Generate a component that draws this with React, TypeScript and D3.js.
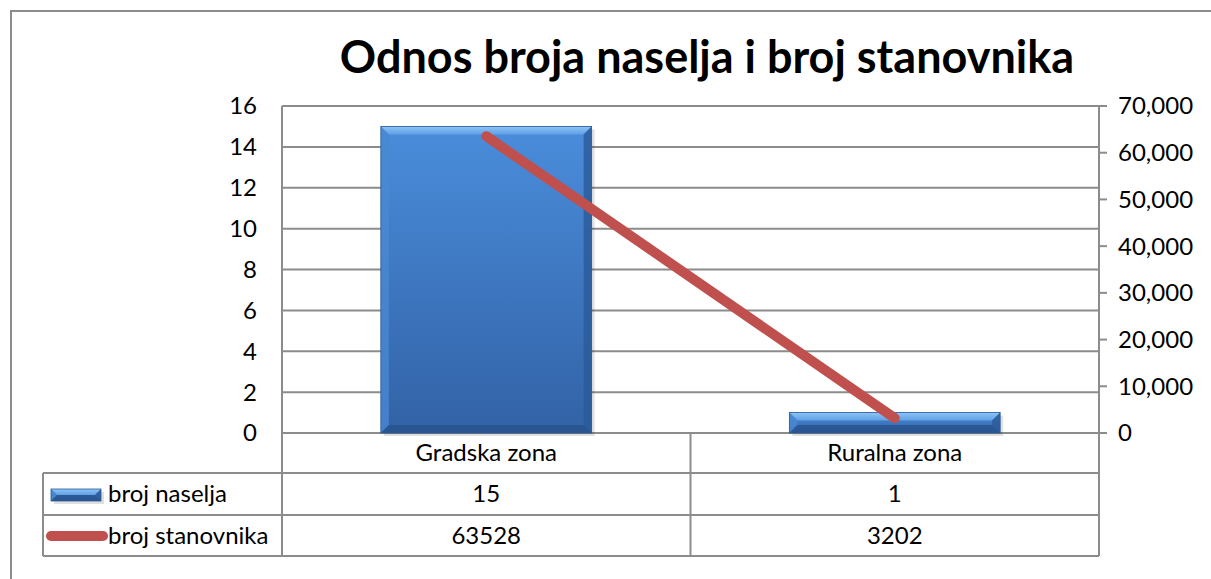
import React from "react";
import * as d3 from "d3";

const categories = ["Gradska zona", "Ruralna zona"];
const brojNaselja = [15, 1];
const brojStanovnika = [63528, 3202];
const leftTicks = [0, 2, 4, 6, 8, 10, 12, 14, 16];
const rightTicks = [0, 10000, 20000, 30000, 40000, 50000, 60000, 70000];
const seriesNames = ["broj naselja", "broj stanovnika"];
const title = "Odnos broja naselja i broj stanovnika";

const W = 1211, H = 579;
const L = 282, R = 1099, T = 106, B = 433;
const rowY = [433, 473, 515, 556];
const tableLeft = 43;
const FONT = "Lato, 'Open Sans', sans-serif";
const GRID = "#8c8c8c";
const FS = 24;

export default function App() {
  const x = d3.scaleBand<string>().domain(categories).range([L, R]).paddingInner(0).paddingOuter(0);
  const yL = d3.scaleLinear().domain([0, 16]).range([B, T]);
  const yR = d3.scaleLinear().domain([0, 70000]).range([B, T]);
  const bw = x.bandwidth() * 0.516;
  const fmt = d3.format(",");
  const line = d3.line<number>().x((_, i) => x(categories[i])! + x.bandwidth() / 2).y(d => yR(d));
  const bev = 8;

  const barShape = (x0: number, y0: number, x1: number, y1: number, key: string) => {
    const b = Math.min(bev, (y1 - y0) / 2, (x1 - x0) / 2);
    return (
      <g key={key}>
        <rect x={x0 + 3} y={y0 + 3} width={x1 - x0} height={y1 - y0} fill="#000" opacity={0.12} />
        <rect x={x0} y={y0} width={x1 - x0} height={y1 - y0} fill="url(#barGrad)" />
        <polygon points={`${x0},${y0} ${x1},${y0} ${x1 - b},${y0 + b} ${x0 + b},${y0 + b}`} fill="url(#topBev)" />
        <polygon points={`${x0},${y0} ${x0 + b},${y0 + b} ${x0 + b},${y1 - b} ${x0},${y1}`} fill="#4a88d2" opacity={0.8} />
        <polygon points={`${x1},${y0} ${x1 - b},${y0 + b} ${x1 - b},${y1 - b} ${x1},${y1}`} fill="#2a5a99" opacity={0.8} />
        <polygon points={`${x0},${y1} ${x0 + b},${y1 - b} ${x1 - b},${y1 - b} ${x1},${y1}`} fill="#27528c" opacity={0.8} />
        <rect x={x0} y={y0} width={x1 - x0} height={y1 - y0} fill="none" stroke="#2b5a94" strokeWidth={0.8} />
      </g>
    );
  };

  return (
    <svg width={W} height={H} style={{ position: "absolute", left: 0, top: 0, background: "#fff" }} fontFamily={FONT}>
      <defs>
        <linearGradient id="barGrad" x1="0" y1="0" x2="0" y2="1">
          <stop offset="0" stopColor="#4a8ddb" />
          <stop offset="1" stopColor="#3262a6" />
        </linearGradient>
        <linearGradient id="topBev" x1="0" y1="0" x2="0" y2="1">
          <stop offset="0" stopColor="#8cc4f5" />
          <stop offset="1" stopColor="#5fa0e6" />
        </linearGradient>
      </defs>
      <path d={`M11,${H} L11,11 L${W},11`} fill="none" stroke={GRID} strokeWidth={2} />
      <text x={707} y={73} textAnchor="middle" fontSize={45} fontWeight="bold" fill="#000">{title}</text>

      {leftTicks.map(t => (
        <line key={"g" + t} x1={L} x2={R} y1={yL(t)} y2={yL(t)} stroke={GRID} strokeWidth={2} />
      ))}
      {rightTicks.map(t => (
        <line key={"rt" + t} x1={R} x2={R + 8} y1={yR(t)} y2={yR(t)} stroke={GRID} strokeWidth={2} />
      ))}
      <line x1={L} x2={L} y1={T} y2={rowY[3]} stroke={GRID} strokeWidth={2} />
      <line x1={R} x2={R} y1={T} y2={rowY[3]} stroke={GRID} strokeWidth={2} />

      {leftTicks.map(t => (
        <text key={"lt" + t} x={257} y={yL(t)} dy="0.35em" textAnchor="end" fontSize={FS} fill="#000">{t}</text>
      ))}
      {rightTicks.map(t => (
        <text key={"rl" + t} x={1118} y={yR(t)} dy="0.35em" textAnchor="start" fontSize={FS} fill="#000">{fmt(t)}</text>
      ))}

      {brojNaselja.map((v, i) => {
        const cx = x(categories[i])! + x.bandwidth() / 2;
        return barShape(cx - bw / 2, yL(v), cx + bw / 2, yL(0), "b" + i);
      })}

      <path d={line(brojStanovnika)!} fill="none" stroke="#c0504d" strokeWidth={10} strokeLinecap="round" />

      <line x1={tableLeft} x2={R} y1={rowY[1]} y2={rowY[1]} stroke={GRID} strokeWidth={2} />
      <line x1={tableLeft} x2={R} y1={rowY[2]} y2={rowY[2]} stroke={GRID} strokeWidth={2} />
      <line x1={tableLeft} x2={R} y1={rowY[3]} y2={rowY[3]} stroke={GRID} strokeWidth={2} />
      <line x1={tableLeft} x2={tableLeft} y1={rowY[1]} y2={rowY[3]} stroke={GRID} strokeWidth={2} />
      {categories.slice(1).map(c => (
        <line key={"v" + c} x1={x(c)!} x2={x(c)!} y1={rowY[0]} y2={rowY[3]} stroke={GRID} strokeWidth={2} />
      ))}
      {categories.map(c => (
        <text key={"c" + c} x={x(c)! + x.bandwidth() / 2} y={(rowY[0] + rowY[1]) / 2} dy="0.35em" textAnchor="middle" fontSize={FS} fill="#000">{c}</text>
      ))}
      {brojNaselja.map((v, i) => (
        <text key={"n" + i} x={x(categories[i])! + x.bandwidth() / 2} y={(rowY[1] + rowY[2]) / 2} dy="0.35em" textAnchor="middle" fontSize={FS} fill="#000">{v}</text>
      ))}
      {brojStanovnika.map((v, i) => (
        <text key={"s" + i} x={x(categories[i])! + x.bandwidth() / 2} y={(rowY[2] + rowY[3]) / 2} dy="0.35em" textAnchor="middle" fontSize={FS} fill="#000">{v}</text>
      ))}

      {barShape(51, 489, 101, 501, "key")}
      <line x1={51} x2={103} y1={536} y2={536} stroke="#c0504d" strokeWidth={10} strokeLinecap="round" />
      <text x={108} y={(rowY[1] + rowY[2]) / 2} dy="0.35em" fontSize={FS} fill="#000">{seriesNames[0]}</text>
      <text x={108} y={(rowY[2] + rowY[3]) / 2} dy="0.35em" fontSize={FS} fill="#000">{seriesNames[1]}</text>
    </svg>
  );
}
